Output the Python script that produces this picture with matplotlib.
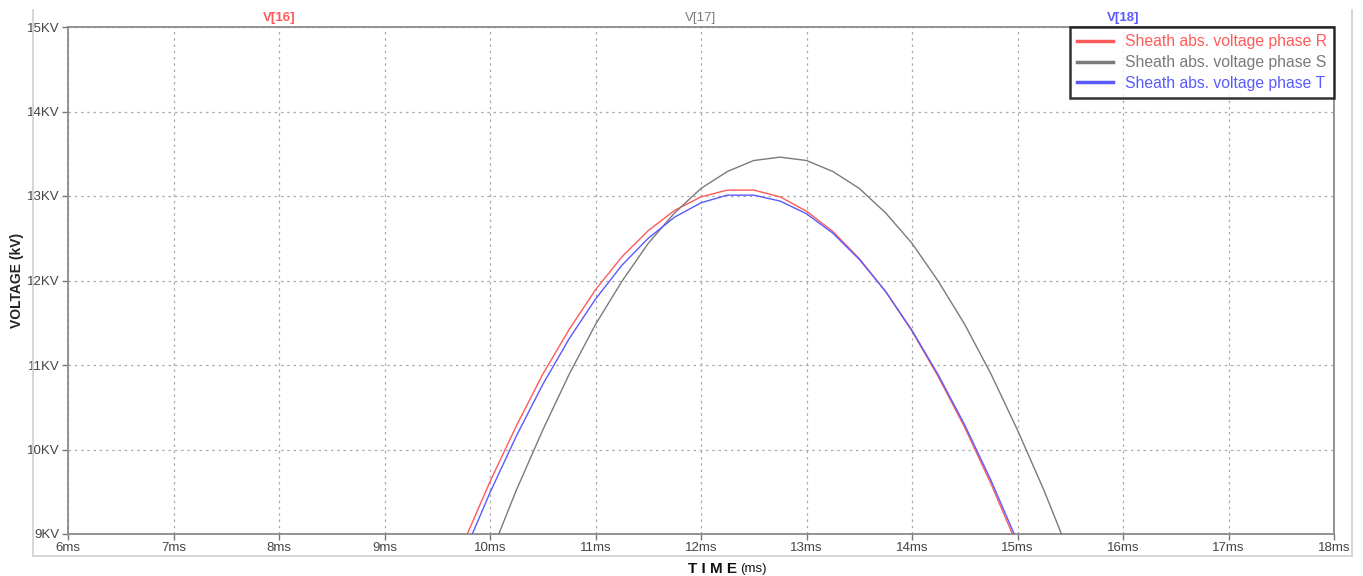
import matplotlib
matplotlib.use("Agg")
import matplotlib.pyplot as plt
from matplotlib.lines import Line2D

# ---- data ----
time_rt = [9.75, 10.0, 10.25, 10.5, 10.75, 11.0, 11.25, 11.5, 11.75, 12.0, 12.25,
           12.5, 12.75, 13.0, 13.25, 13.5, 13.75, 14.0, 14.25, 14.5, 14.75, 15.0]
v_r = [8.90, 9.62, 10.28, 10.89, 11.42, 11.89, 12.28, 12.59, 12.83, 12.99, 13.07,
       13.07, 12.99, 12.82, 12.58, 12.26, 11.87, 11.40, 10.86, 10.26, 9.59, 8.86]
v_t = [8.76, 9.49, 10.16, 10.77, 11.31, 11.78, 12.18, 12.50, 12.75, 12.92, 13.01,
       13.01, 12.94, 12.79, 12.56, 12.25, 11.87, 11.41, 10.88, 10.29, 9.63, 8.91]
time_s = [10.0, 10.25, 10.5, 10.75, 11.0, 11.25, 11.5, 11.75, 12.0, 12.25, 12.5, 12.75,
          13.0, 13.25, 13.5, 13.75, 14.0, 14.25, 14.5, 14.75, 15.0, 15.25, 15.5]
v_s = [8.74, 9.52, 10.23, 10.89, 11.48, 11.99, 12.44, 12.80, 13.09, 13.29, 13.42, 13.46,
       13.42, 13.29, 13.09, 12.80, 12.44, 11.99, 11.48, 10.89, 10.23, 9.52, 8.74]

series_names = ["Sheath abs. voltage phase R", "Sheath abs. voltage phase S",
                "Sheath abs. voltage phase T"]
trace_tags = ["V[16]", "V[17]", "V[18]"]
tag_positions = [8, 12, 16]
x_ticks = list(range(6, 19))
x_labels = [f"{t}ms" for t in x_ticks]
y_ticks = list(range(9, 16))
y_labels = [f"{v}KV" for v in y_ticks]

col_r = "#ff5a5a"
col_s = "#7a7a7a"
col_t = "#5a5aff"

plt.rcParams['font.family'] = ['Liberation Sans Narrow', 'Liberation Sans', 'DejaVu Sans']

fig = plt.figure(figsize=(13.63, 5.76), dpi=100)
ax = fig.add_axes([68 / 1363, 1 - 534 / 576, (1334 - 68) / 1363, (534 - 27) / 576])

ax.plot(time_rt, v_r, color=col_r, lw=1.0, zorder=3)
ax.plot(time_s, v_s, color=col_s, lw=1.0, zorder=3)
ax.plot(time_rt, v_t, color=col_t, lw=1.0, zorder=3)

ax.set_xlim(6, 18)
ax.set_ylim(9, 15)
ax.set_xticks(x_ticks)
ax.set_xticklabels(x_labels)
ax.set_yticks(y_ticks)
ax.set_yticklabels(y_labels)
ax.tick_params(axis='both', direction='out', length=4, width=1, color='#777777',
               labelcolor='#444444', labelsize=9.5, pad=2)
ax.grid(True, color='#aaaaaa', linestyle=(0, (2, 3)), lw=0.9)
for s in ax.spines.values():
    s.set_color('#8a8a8a')
    s.set_linewidth(1.3)

ax.set_ylabel("VOLTAGE (kV)", fontsize=10, fontweight='bold', color='#222222',
              family=['Liberation Sans', 'DejaVu Sans'])
ax.yaxis.set_label_coords((24 - 68) / 1266, 0.5)

# x label
fig.text(688 / 1363, 1 - 569 / 576, "T I M E", fontsize=11, fontweight='bold',
         color='#111111', ha='left', va='center')
fig.text(740 / 1363, 1 - 569 / 576, "(ms)", fontsize=9.5, color='#111111',
         ha='left', va='center')

# trace tags at top
for tag, xt, c in zip(trace_tags, tag_positions, [col_r, col_s, col_t]):
    ax.text(xt, 15.04, tag, ha='center', va='bottom', fontsize=9.5, color=c,
            fontweight='bold' if c != col_s else 'normal')

# legend
handles = [Line2D([0], [0], color=c, lw=2.5) for c in (col_r, col_s, col_t)]
leg = ax.legend(handles, series_names, loc='upper right', bbox_to_anchor=(1.0, 1.0),
                borderaxespad=0.0, frameon=True, fancybox=False, handlelength=2.3,
                borderpad=0.45, labelspacing=0.38, handletextpad=0.75,
                prop={'family': ['Liberation Sans', 'DejaVu Sans'], 'size': 11.3})
leg.get_frame().set_edgecolor('black')
leg.get_frame().set_linewidth(1.8)
for txt, c in zip(leg.get_texts(), (col_r, col_s, col_t)):
    txt.set_color(c)

# outer light frame
fig.add_artist(Line2D([33 / 1363, 33 / 1363], [1 - 556 / 576, 1 - 10 / 576],
                      color='#d0d0d0', lw=1.2))
fig.add_artist(Line2D([1352 / 1363, 1352 / 1363], [1 - 556 / 576, 1 - 10 / 576],
                      color='#d0d0d0', lw=1.2))
fig.add_artist(Line2D([33 / 1363, 1352 / 1363], [1 - 556 / 576, 1 - 556 / 576],
                      color='#d0d0d0', lw=1.2))

fig.savefig("out.png", dpi=100)
